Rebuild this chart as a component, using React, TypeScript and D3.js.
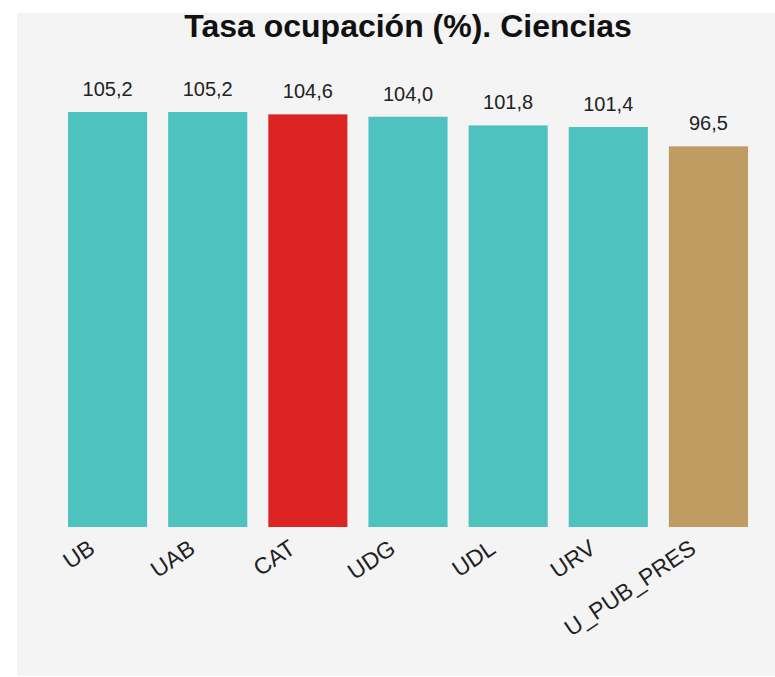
import React, { useRef, useEffect } from "react";
import * as d3 from "d3";

const categories = ["UB", "UAB", "CAT", "UDG", "UDL", "URV", "U_PUB_PRES"];
const values = [105.2, 105.2, 104.6, 104.0, 101.8, 101.4, 96.5];
const colors = ["#4EC2BF", "#4EC2BF", "#DC2424", "#4EC2BF", "#4EC2BF", "#4EC2BF", "#BF9C62"];
const title = "Tasa ocupación (%). Ciencias";

const W = 775;
const H = 677;
const FONT = "Liberation Sans, Arial, sans-serif";

const App = () => {
  const ref = useRef<SVGSVGElement>(null);

  useEffect(() => {
    const svg = d3.select(ref.current);
    svg.selectAll("*").remove();

    // fondo gris
    svg.append("rect")
      .attr("x", 17).attr("y", 13)
      .attr("width", W - 17).attr("height", H - 14)
      .attr("fill", "#F4F4F4");

    const x = d3.scaleBand<string>()
      .domain(categories)
      .range([57.5, 758.5])
      .paddingInner(0.21)
      .paddingOuter(0.105);

    const y = d3.scaleLinear()
      .domain([0, 105.2])
      .range([527, 112]);

    svg.append("text")
      .attr("x", 408).attr("y", 37)
      .attr("text-anchor", "middle")
      .attr("font-family", FONT)
      .attr("font-weight", "bold")
      .attr("font-size", 32)
      .attr("fill", "#111")
      .text(title);

    const data = categories.map((c, i) => ({ c, v: values[i], col: colors[i] }));

    svg.append("g")
      .selectAll("rect")
      .data(data)
      .join("rect")
      .attr("x", d => x(d.c)!)
      .attr("y", d => y(d.v))
      .attr("width", x.bandwidth())
      .attr("height", d => y(0) - y(d.v))
      .attr("fill", d => d.col);

    // valores sobre las barras
    svg.append("g")
      .selectAll("text")
      .data(data)
      .join("text")
      .attr("x", d => x(d.c)! + x.bandwidth() / 2)
      .attr("y", d => y(d.v) - 16)
      .attr("text-anchor", "middle")
      .attr("font-family", FONT)
      .attr("font-size", 20)
      .attr("fill", "#222")
      .text(d => d3.format(".1f")(d.v).replace(".", ","));

    // etiquetas del eje
    svg.append("g")
      .selectAll("text")
      .data(categories)
      .join("text")
      .attr("transform", d => `translate(${x(d)! + x.bandwidth() / 2 - 11},${y(0) + 25}) rotate(-34)`)
      .attr("text-anchor", "end")
      .attr("font-family", FONT)
      .attr("font-size", 23)
      .attr("fill", "#222")
      .text(d => d);
  }, []);

  return (
    <svg
      ref={ref}
      width={W}
      height={H}
      style={{ position: "absolute", left: 0, top: 0, background: "#fff" }}
    />
  );
};

export default App;
